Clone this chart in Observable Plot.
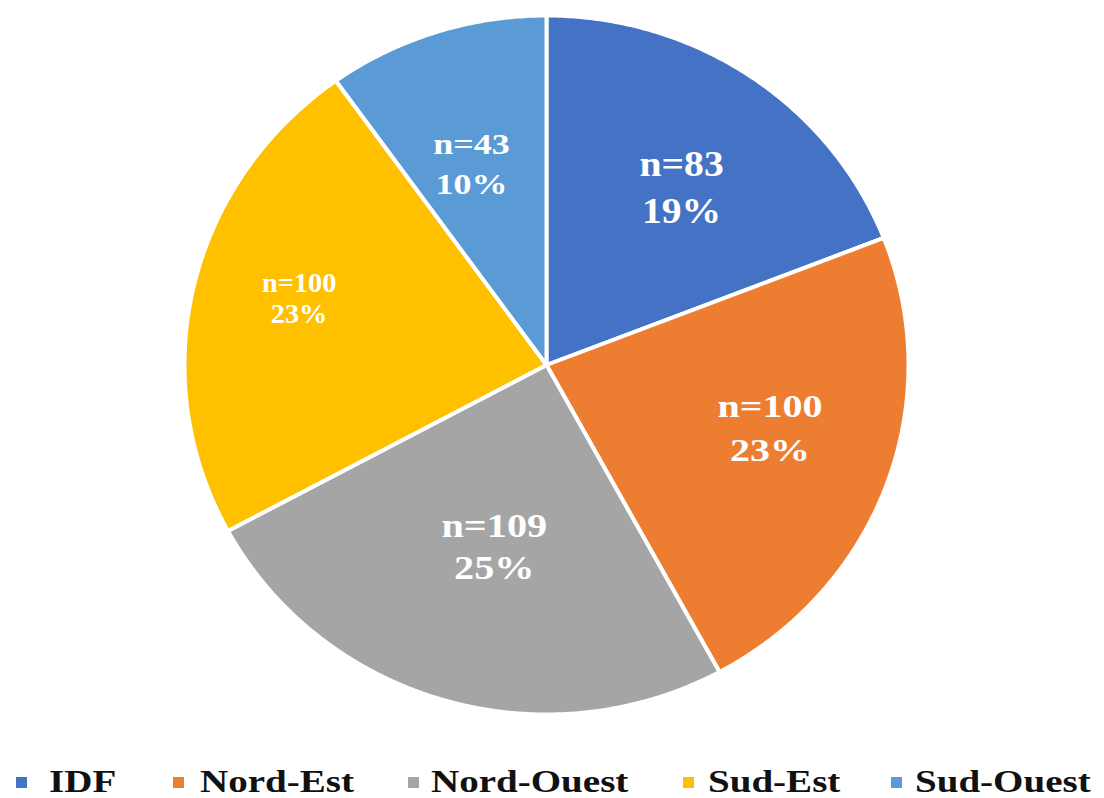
<!DOCTYPE html>
<html>
<head>
<meta charset="utf-8">
<script src="https://cdn.jsdelivr.net/npm/d3@7"></script>
<script src="https://cdn.jsdelivr.net/npm/@observablehq/plot@0.6"></script>
<style>
  html, body { margin: 0; padding: 0; background: #fff; }
  #chart { width: 1104px; }
  svg { display: block; }
</style>
</head>
<body>
<div id="chart"></div>
<script>
// ---- data ----
const names = ["IDF", "Nord-Est", "Nord-Ouest", "Sud-Est", "Sud-Ouest"];
const counts = [83, 100, 109, 100, 43];
const percents = [19, 23, 25, 23, 10];
const colors = ["#4472C4", "#ED7D31", "#A5A5A5", "#FFC000", "#5B9BD5"];

// ---- layout / style (not data) ----
const labelStyle = [
  {r: 0.637, dx: 5,  dy: 3,   size: 36, lh: 1.3,  sx: 1.1},
  {r: 0.64,  dx: 6,  dy: -17, size: 32, lh: 1.37, sx: 1.25},
  {r: 0.535, dx: 3,  dy: 0,   size: 33, lh: 1.3,  sx: 1.22},
  {r: 0.71,  dx: 3,  dy: -11, size: 27, lh: 1.15, sx: 1.05},
  {r: 0.615, dx: -7, dy: 1,   size: 30, lh: 1.33, sx: 1.2}
];
const legendMarkerX = [16, 173, 408, 683, 891];
const legendTextX = [49, 200, 431, 708, 915];
const serif = "'Liberation Serif', 'DejaVu Serif', 'Times New Roman', serif";

// ---- pie geometry from data ----
const arcs = d3.pie().sort(null).startAngle(0).endAngle(2 * Math.PI)(counts);
const points = [];
arcs.forEach((a, i) => {
  points.push({name: names[i], x: 0, y: 0});
  const step = Math.PI / 360;
  for (let t = a.startAngle; t < a.endAngle; t += step) {
    points.push({name: names[i], x: Math.sin(t), y: Math.cos(t)});
  }
  points.push({name: names[i], x: Math.sin(a.endAngle), y: Math.cos(a.endAngle)});
  points.push({name: names[i], x: 0, y: 0});
});

const labelMarks = arcs.map((a, i) => {
  const mid = (a.startAngle + a.endAngle) / 2;
  const s = labelStyle[i];
  const d = [{x: s.r * Math.sin(mid), y: s.r * Math.cos(mid), text: `n=${counts[i]}\n${percents[i]}%`}];
  return Plot.text(d, {
    x: "x", y: "y", text: "text",
    dx: s.dx, dy: s.dy,
    fontSize: s.size, lineHeight: s.lh,
    fontWeight: "bold", fontFamily: serif,
    fill: "white", textAnchor: "middle", lineAnchor: "middle"
  });
});

const svg = Plot.plot({
  width: 1104,
  height: 750,
  margin: 0,
  x: {domain: [-1, 1], range: [184, 908], axis: null},
  y: {domain: [-1, 1], range: [714, 15], axis: null},
  color: {domain: names, range: colors},
  marks: [
    Plot.line(points, {
      x: "x", y: "y", z: "name", fill: "name",
      stroke: "white", strokeWidth: 4, strokeLinejoin: "round", curve: "linear"
    }),
    ...labelMarks
  ]
});

// horizontal stretch of labels to match the reference's wide lettering
d3.select(svg).selectAll('g[aria-label="text"]').each(function(_, gi) {
  const sx = labelStyle[gi] ? labelStyle[gi].sx : 1;
  d3.select(this).selectAll("text").each(function() {
    let tr = this.getAttribute("transform") || "";
    const x = this.getAttribute("x"), y = this.getAttribute("y");
    if (x != null || y != null) {
      tr += ` translate(${x || 0},${y || 0})`;
      this.removeAttribute("x");
      this.removeAttribute("y");
    }
    this.setAttribute("transform", tr + ` scale(${sx},1)`);
  });
});

document.getElementById("chart").appendChild(svg);

// ---- legend below ----
const legend = d3.create("svg").attr("width", 1104).attr("height", 48);
names.forEach((n, i) => {
  legend.append("rect")
    .attr("x", legendMarkerX[i]).attr("y", 27)
    .attr("width", 11).attr("height", 11)
    .attr("fill", colors[i]);
  legend.append("text")
    .attr("transform", `translate(${legendTextX[i]},42) scale(1.22,1)`)
    .attr("font-family", serif)
    .attr("font-weight", "bold")
    .attr("font-size", 32)
    .attr("fill", "#111")
    .text(n);
});
document.getElementById("chart").appendChild(legend.node());
</script>
</body>
</html>
